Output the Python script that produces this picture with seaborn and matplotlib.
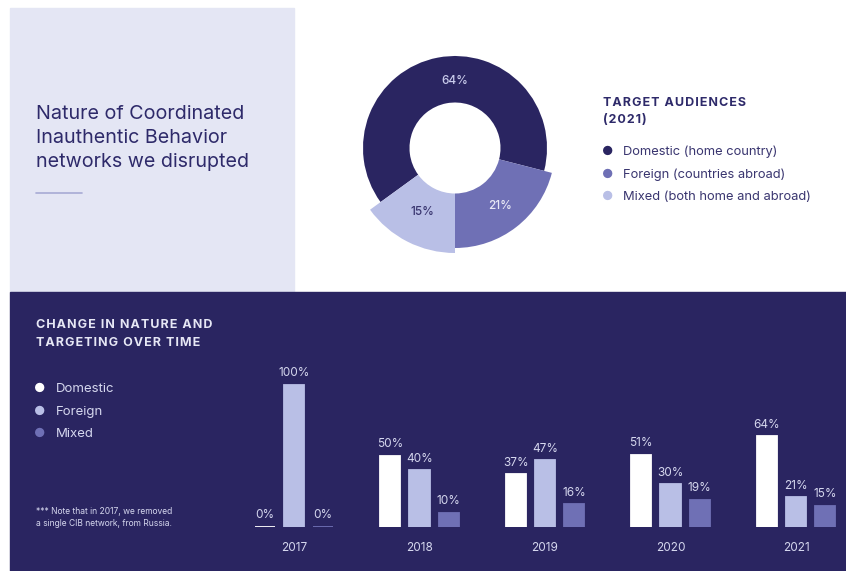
import numpy as np
import pandas as pd
import matplotlib
matplotlib.use("Agg")
import matplotlib.pyplot as plt
from matplotlib.patches import Rectangle
from matplotlib.lines import Line2D
import seaborn as sns

# ---------------- data ----------------
audiences = ["Domestic", "Foreign", "Mixed"]
pie_labels = ["Domestic (home country)", "Foreign (countries abroad)", "Mixed (both home and abroad)"]
pie_values = [64, 21, 15]

years = ["2017", "2018", "2019", "2020", "2021"]
domestic = [0, 50, 37, 51, 64]
foreign = [100, 40, 47, 30, 21]
mixed = [0, 10, 16, 19, 15]

# ---------------- style ----------------
NAVY = "#2a2561"
MID = "#6f70b5"
LIGHT = "#b9bfe6"
PANEL = "#e4e6f4"
SOFT = "#d5d7ee"

sns.set_theme(style="white")
plt.rcParams["font.family"] = ["Inter", "DejaVu Sans"]

W, H = 846, 571
fig = plt.figure(figsize=(W / 100, H / 100), dpi=100, facecolor="white")


def fx(x):
    return x / W


def fy(y):
    return 1 - y / H


def spaced(s):
    return "\u200a".join(s)


# background panels
fig.add_artist(Rectangle((fx(10), fy(292)), fx(294) - fx(10), fy(8) - fy(292),
                         transform=fig.transFigure, color=PANEL, zorder=0))
fig.add_artist(Rectangle((fx(10), 0), 1 - fx(10), fy(292),
                         transform=fig.transFigure, color=NAVY, zorder=0))

# ---------------- top-left title ----------------
for i, line in enumerate(["Nature of Coordinated", "Inauthentic Behavior", "networks we disrupted"]):
    fig.text(fx(36), fy(114 + 24 * i), line, fontsize=14.2, color="#2e2a6a",
             va="center", ha="left")
fig.add_artist(Line2D([fx(36), fx(82)], [fy(193), fy(193)], transform=fig.transFigure,
                      color="#a7aad4", lw=1.2))

# ---------------- donut ----------------
cx, cy, half = 455, 148, 120
axp = fig.add_axes([fx(cx - half), fy(cy + half), 2 * half / W, 2 * half / H])
wedges, _ = axp.pie(pie_values, colors=[NAVY, MID, LIGHT], startangle=216,
                    counterclock=False, radius=1.0,
                    wedgeprops=dict(width=0.55, linewidth=0))
hole = 0.455
radii = [0.92, 1.0, 1.05]
for w, r in zip(wedges, radii):
    w.set_radius(r)
    w.set_width(r - hole)
axp.set_xlim(-1.2, 1.2)
axp.set_ylim(-1.2, 1.2)
axp.set_aspect("equal")
axp.axis("off")

label_colors = ["#c9cbeb", "#e8e9f6", "#3a3670"]
label_r = [0.68, 0.74, 0.72]
for i, (w, v) in enumerate(zip(wedges, pie_values)):
    ang = np.deg2rad((w.theta1 + w.theta2) / 2)
    x, y = label_r[i] * np.cos(ang), label_r[i] * np.sin(ang)
    if i == 0:
        x = 0.0
    axp.text(x, y, f"{v}%", ha="center", va="center", fontsize=8.5,
             color=label_colors[i], fontweight="medium")

# top-right legend
fig.text(fx(603), fy(103), spaced("TARGET AUDIENCES"), fontsize=9, fontweight="bold",
         color="#2e2a6a", va="center")
fig.text(fx(603), fy(120), spaced("(2021)"), fontsize=9, fontweight="bold",
         color="#2e2a6a", va="center")
for i, (lab, col) in enumerate(zip(pie_labels, [NAVY, MID, LIGHT])):
    yy = 152 + 22.5 * i
    fig.text(fx(608), fy(yy), "\u25CF", fontsize=9, color=col, ha="center", va="center")
    fig.text(fx(623), fy(yy), lab, fontsize=9.3, color="#3a3670", va="center")

# ---------------- bottom-left text ----------------
fig.text(fx(36), fy(325), spaced("CHANGE IN NATURE AND"), fontsize=9, fontweight="bold",
         color="#e6e7f5", va="center")
fig.text(fx(36), fy(343), spaced("TARGETING OVER TIME"), fontsize=9, fontweight="bold",
         color="#e6e7f5", va="center")
for i, (lab, col) in enumerate(zip(audiences, ["white", LIGHT, MID])):
    yy = 389 + 22.5 * i
    fig.text(fx(40), fy(yy), "\u25CF", fontsize=9, color=col, ha="center", va="center")
    fig.text(fx(56), fy(yy), lab, fontsize=9.5, color=SOFT, va="center")
fig.text(fx(36), fy(511), "*** Note that in 2017, we removed", fontsize=6.1,
         color=SOFT, va="center")
fig.text(fx(36), fy(523.5), "a single CIB network, from Russia.", fontsize=6.1,
         color=SOFT, va="center")

# ---------------- bar chart ----------------
df = pd.DataFrame({
    "year": years * 3,
    "audience": [a for a in audiences for _ in years],
    "value": domestic + foreign + mixed,
})

unit = 125.5
ax_left, ax_right = 231, 846
base, top = 527, 360
axb = fig.add_axes([fx(ax_left), fy(base), (ax_right - ax_left) / W, (base - top) / H])
sns.barplot(data=df, x="year", y="value", hue="audience", hue_order=audiences,
            palette={"Domestic": "white", "Foreign": LIGHT, "Mixed": MID},
            width=0.7, gap=0.31, errorbar=None, legend=False, ax=axb,
            linewidth=0, saturation=1)
for cont in axb.containers:
    for p in cont.patches:
        p.set_edgecolor(p.get_facecolor())
        p.set_linewidth(1.3)
    axb.bar_label(cont, labels=[f"{v:g}%" for v in cont.datavalues], padding=4,
                  fontsize=8.5, color=SOFT)
x0 = -(294 - ax_left) / unit
axb.set_xlim(x0, x0 + (ax_right - ax_left) / unit)
axb.set_ylim(0, (base - top) / 1.42)
axb.set_facecolor("none")
for s in axb.spines.values():
    s.set_visible(False)
axb.set_yticks([])
axb.set_xlabel("")
axb.set_ylabel("")
axb.tick_params(axis="x", length=0, pad=11, labelsize=8.5, labelcolor=SOFT)

fig.savefig("out.png", dpi=100, facecolor="white")
